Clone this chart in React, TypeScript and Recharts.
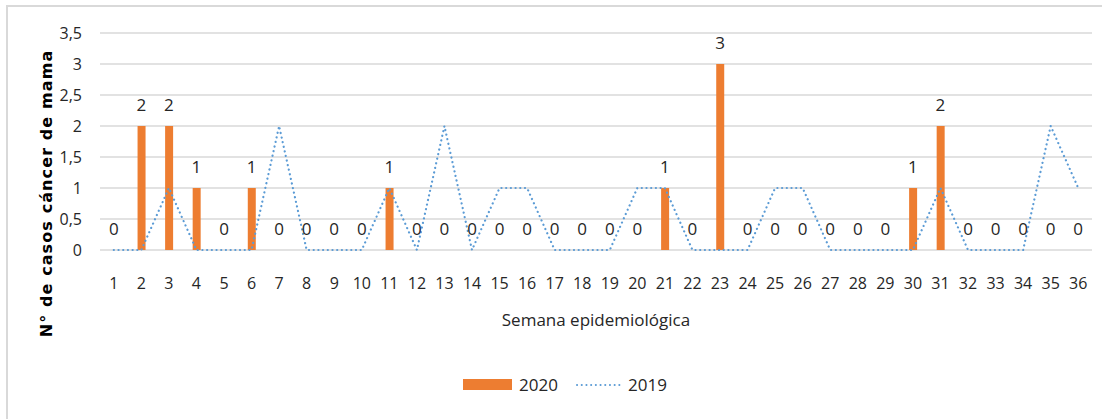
import {
  ComposedChart,
  Bar,
  Line,
  XAxis,
  YAxis,
  CartesianGrid,
  Legend,
  LabelList,
} from "recharts";

const semanas = [
  "1", "2", "3", "4", "5", "6", "7", "8", "9", "10", "11", "12",
  "13", "14", "15", "16", "17", "18", "19", "20", "21", "22", "23", "24",
  "25", "26", "27", "28", "29", "30", "31", "32", "33", "34", "35", "36",
];

const casos2020 = [
  0, 2, 2, 1, 0, 1, 0, 0, 0, 0, 1, 0,
  0, 0, 0, 0, 0, 0, 0, 0, 1, 0, 3, 0,
  0, 0, 0, 0, 0, 1, 2, 0, 0, 0, 0, 0,
];

const casos2019 = [
  0, 0, 1, 0, 0, 0, 2, 0, 0, 0, 1, 0,
  2, 0, 1, 1, 0, 0, 0, 1, 1, 0, 0, 0,
  1, 1, 0, 0, 0, 0, 1, 0, 0, 0, 2, 1,
];

const yTicks = [0, 0.5, 1, 1.5, 2, 2.5, 3, 3.5];

const data = semanas.map((s, i) => ({
  semana: s,
  y2020: casos2020[i],
  y2019: casos2019[i],
}));

const FONT = "'Open Sans', sans-serif";
const DOTS = "0.1 4.6";

const fmt = (v: number) => String(v).replace(".", ",");

function LegendContent() {
  return (
    <div
      style={{
        display: "flex",
        justifyContent: "center",
        alignItems: "center",
        fontFamily: FONT,
        fontSize: 17,
        color: "#262626",
        paddingLeft: 28,
      }}
    >
      <span style={{ display: "inline-block", width: 49, height: 11, background: "#ED7D31", marginRight: 7 }} />
      <span style={{ marginRight: 16 }}>2020</span>
      <svg width={48} height={6} style={{ marginRight: 6 }}>
        <line x1={3} y1={3} x2={46} y2={3} stroke="#5B9BD5" strokeWidth={2} strokeDasharray={DOTS} strokeLinecap="round" />
      </svg>
      <span>2019</span>
    </div>
  );
}

export default function App() {
  return (
    <div style={{ position: "absolute", top: 0, left: 0, width: 1102, height: 419, background: "#fff" }}>
      <div
        style={{
          position: "absolute",
          left: 6,
          top: 5,
          width: 1096,
          height: 414,
          borderLeft: "2px solid #d9d9d9",
          borderTop: "2px solid #d9d9d9",
          boxSizing: "border-box",
        }}
      />
      <ComposedChart
        width={1102}
        height={419}
        data={data}
        margin={{ top: 33, right: 10, bottom: 119, left: 40 }}
        style={{ position: "absolute", top: 0, left: 0 }}
      >
        <CartesianGrid vertical={false} stroke="#d9d9d9" strokeWidth={1.5} />
        <XAxis
          dataKey="semana"
          axisLine={false}
          tickLine={false}
          height={50}
          interval={0}
          tick={{ fill: "#262626", fontSize: 16, fontFamily: FONT }}
          tickMargin={22}
          label={{
            value: "Semana epidemiológica",
            position: "insideBottom",
            offset: -26,
            fill: "#262626",
            fontSize: 17,
            fontFamily: FONT,
          }}
        />
        <YAxis
          domain={[0, 3.5]}
          ticks={yTicks}
          axisLine={false}
          tickLine={false}
          width={60}
          tickFormatter={fmt}
          tick={{ fill: "#262626", fontSize: 16, fontFamily: FONT }}
          tickMargin={12}
          label={{
            value: "N° de casos cáncer de mama",
            angle: -90,
            position: "insideLeft",
            offset: 0,
            dx: 6,
            dy: 52,
            fill: "#000",
            fontSize: 16,
            fontWeight: "bold",
            fontFamily: "'DejaVu Sans', sans-serif",
            style: { textAnchor: "middle", letterSpacing: 1.1 },
          }}
        />
        <Legend
          layout="horizontal"
          verticalAlign="middle"
          align="center"
          content={<LegendContent />}
          wrapperStyle={{ top: 373, left: 0, width: 1102 }}
        />
        <Bar dataKey="y2020" name="2020" fill="#ED7D31" barSize={8} isAnimationActive={false} />
        <Line
          dataKey="y2019"
          name="2019"
          type="linear"
          stroke="#5B9BD5"
          strokeWidth={2.2}
          strokeDasharray={DOTS}
          strokeLinecap="round"
          dot={false}
          activeDot={false}
          isAnimationActive={false}
        />
        <Line
          dataKey="y2020"
          name="etiquetas"
          legendType="none"
          stroke="none"
          dot={false}
          activeDot={false}
          isAnimationActive={false}
        >
          <LabelList
            dataKey="y2020"
            position="top"
            offset={15}
            fill="#262626"
            fontSize={17}
            fontFamily={FONT}
          />
        </Line>
      </ComposedChart>
    </div>
  );
}
